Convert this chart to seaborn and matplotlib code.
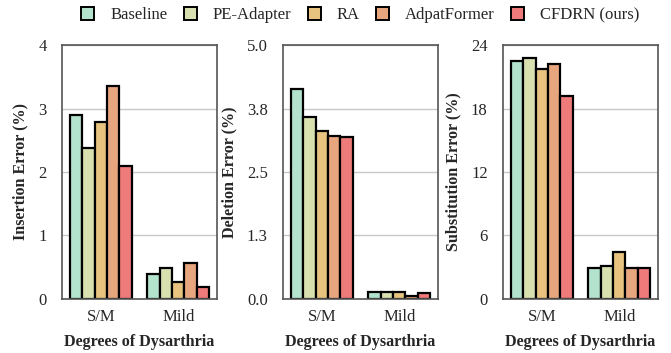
import matplotlib
matplotlib.use("Agg")
import matplotlib.pyplot as plt
import seaborn as sns
import pandas as pd
from matplotlib.patches import Patch

methods = ["Baseline", "PE-Adapter", "RA", "AdpatFormer", "CFDRN (ours)"]
degrees = ["S/M", "Mild"]

insertion_sm = [2.90, 2.38, 2.79, 3.36, 2.09]
insertion_mild = [0.40, 0.49, 0.27, 0.56, 0.19]
deletion_sm = [4.13, 3.58, 3.31, 3.21, 3.18]
deletion_mild = [0.14, 0.14, 0.14, 0.06, 0.12]
substitution_sm = [22.5, 22.8, 21.7, 22.2, 19.2]
substitution_mild = [2.96, 3.09, 4.41, 2.96, 2.96]

colors = ["#b3e2cd", "#d9e0b0", "#e8c380", "#e8a67f", "#ee7b7a"]

ylabels = ["Insertion Error (%)", "Deletion Error (%)", "Substitution Error (%)"]
yticks = [[0, 1, 2, 3, 4], [0, 1.25, 2.5, 3.75, 5.0], [0, 6, 12, 18, 24]]
yticklabels = [["0", "1", "2", "3", "4"], ["0.0", "1.3", "2.5", "3.8", "5.0"],
               ["0", "6", "12", "18", "24"]]

sns.set_style("white")
plt.rcParams["font.family"] = ["Liberation Serif", "DejaVu Serif"]

def make_df(sm, mild):
    rows = []
    for d, vals in zip(degrees, [sm, mild]):
        for m, v in zip(methods, vals):
            rows.append({"degree": d, "method": m, "value": v})
    return pd.DataFrame(rows)

dfs = [make_df(insertion_sm, insertion_mild),
       make_df(deletion_sm, deletion_mild),
       make_df(substitution_sm, substitution_mild)]

fig = plt.figure(figsize=(6.71, 3.53), dpi=100)
lefts = [0.0924, 0.4218, 0.7496]
w = 0.231
bottom, top = 0.153, 0.8725

for i in range(3):
    ax = fig.add_axes([lefts[i], bottom, w, top - bottom])
    sns.barplot(data=dfs[i], x="degree", y="value", hue="method",
                hue_order=methods, order=degrees, palette=colors,
                saturation=1, edgecolor="black", linewidth=1.6, ax=ax,
                legend=False, errorbar=None, width=0.8, gap=0)
    ax.set_xlim(-0.5, 1.5)
    ax.set_ylim(yticks[i][0], yticks[i][-1])
    ax.set_yticks(yticks[i])
    ax.set_yticklabels(yticklabels[i], fontsize=12)
    ax.tick_params(axis="x", labelsize=12, length=0, pad=7.5)
    ax.tick_params(axis="y", length=0, pad=11)
    ax.set_ylabel(ylabels[i], fontsize=11.6, fontweight="bold", labelpad=7)
    ax.set_xlabel("Degrees of Dysarthria", fontsize=11.6, fontweight="bold",
                  labelpad=6)
    ax.yaxis.grid(True, color="#c8c8c8", linewidth=1.0)
    ax.set_axisbelow(True)
    for s in ax.spines.values():
        s.set_color("#555555")
        s.set_linewidth(1.2)

handles = [Patch(facecolor=c, edgecolor="black", linewidth=1.4, label=m)
           for c, m in zip(colors, methods)]
fig.legend(handles=handles, loc="center", bbox_to_anchor=(0.537, 0.957),
           ncol=5, frameon=False, fontsize=12, handlelength=0.78,
           handleheight=0.78, handletextpad=0.94, columnspacing=1.0,
           borderpad=0.1)

fig.savefig("out.png", dpi=100)
